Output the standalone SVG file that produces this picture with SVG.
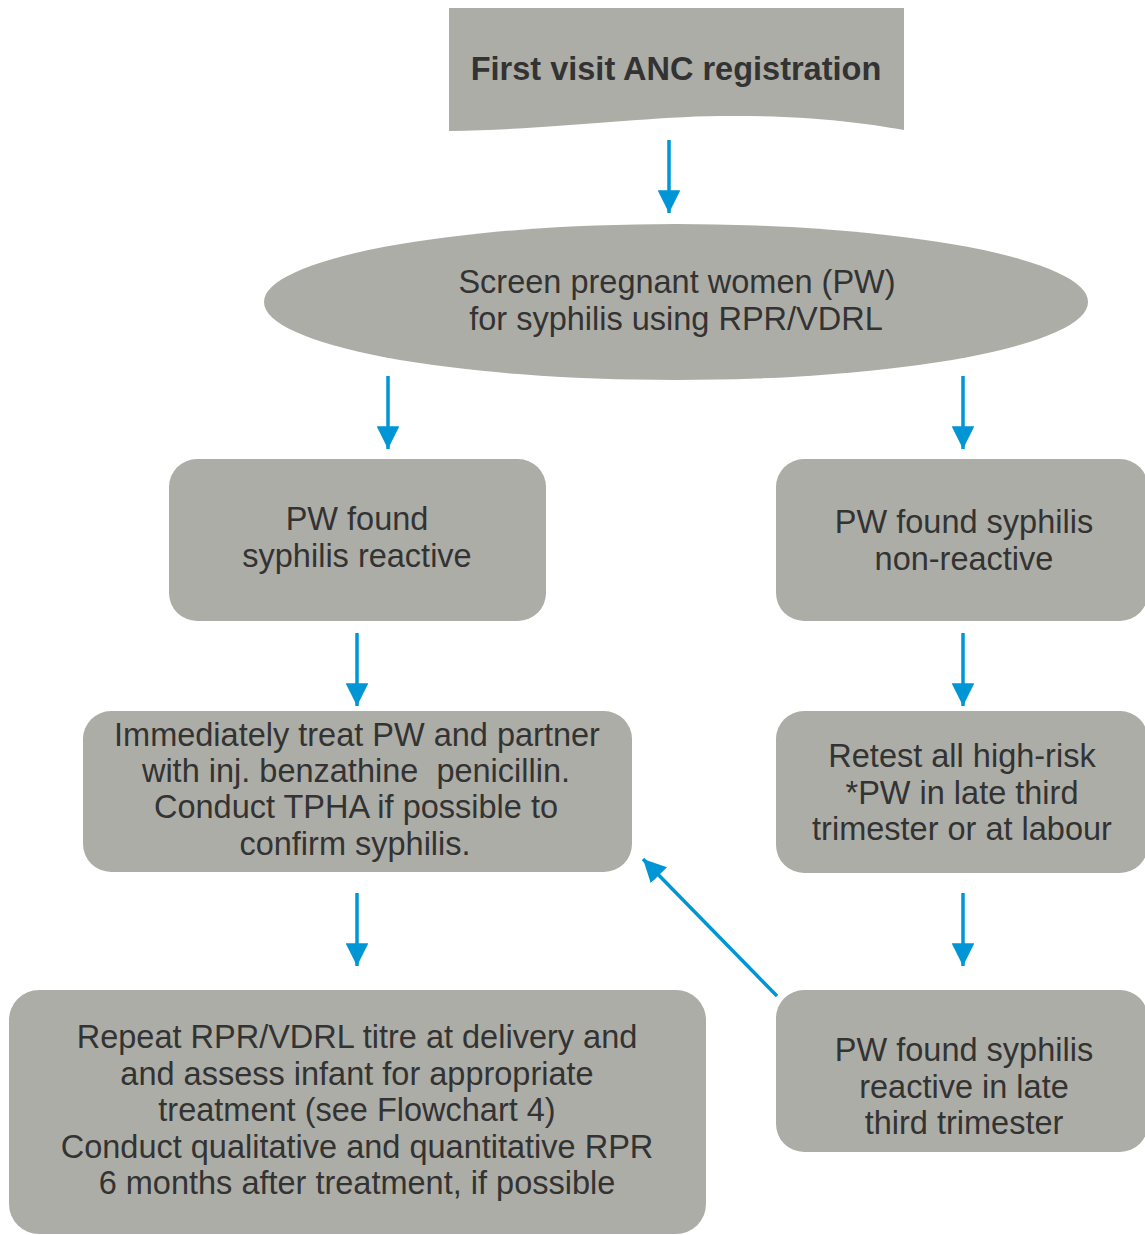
<svg xmlns="http://www.w3.org/2000/svg" width="1145" height="1235" viewBox="0 0 1145 1235">
<defs>
<style>
.n{fill:#adada7;}
.t{font-family:"Liberation Sans",Arial,sans-serif;font-size:32.5px;fill:#333333;text-anchor:middle;}
.b{font-weight:bold;}
.c{stroke:#0096d6;stroke-width:3.5;fill:none;}
</style>
<marker id="ah" viewBox="0 0 10 10" refX="10" refY="5" markerWidth="6.5" markerHeight="6.5" orient="auto" markerUnits="strokeWidth">
<path d="M0,0 L10,5 L0,10 z" fill="#0096d6"/>
</marker>
</defs>
<rect width="1145" height="1235" fill="#ffffff"/>
<g id="connectors">
<line class="c" x1="669" y1="140" x2="669" y2="213" marker-end="url(#ah)"/>
<line class="c" x1="388" y1="376" x2="388" y2="449" marker-end="url(#ah)"/>
<line class="c" x1="963" y1="376" x2="963" y2="449" marker-end="url(#ah)"/>
<line class="c" x1="357" y1="633" x2="357" y2="706" marker-end="url(#ah)"/>
<line class="c" x1="963" y1="633" x2="963" y2="706" marker-end="url(#ah)"/>
<line class="c" x1="357" y1="893" x2="357" y2="966" marker-end="url(#ah)"/>
<line class="c" x1="963" y1="893" x2="963" y2="966" marker-end="url(#ah)"/>
<line class="c" x1="777" y1="996" x2="643" y2="859" marker-end="url(#ah)"/>
</g>
<g id="n1">
<path class="n" d="M449,8 L904,8 L904,130 C860,122 800,115 720,116 C640,117 560,129 449,131 Z"/>
<text class="t b" x="676" y="80">First visit ANC registration</text>
</g>
<g id="n2">
<ellipse class="n" cx="676" cy="302" rx="412" ry="78"/>
<text class="t" x="677" y="293">Screen pregnant women (PW)</text>
<text class="t" x="676" y="330">for syphilis using RPR/VDRL</text>
</g>
<g id="n3">
<rect class="n" x="169" y="459" width="377" height="162" rx="28"/>
<text class="t" x="357" y="530">PW found</text>
<text class="t" x="357" y="567">syphilis reactive</text>
</g>
<g id="n4">
<rect class="n" x="776" y="459" width="372" height="162" rx="28"/>
<text class="t" x="964" y="533">PW found syphilis</text>
<text class="t" x="964" y="570">non-reactive</text>
</g>
<g id="n5">
<rect class="n" x="83" y="711" width="549" height="161" rx="28"/>
<text class="t" x="357" y="746">Immediately treat PW and partner</text>
<text class="t" x="356" y="782" xml:space="preserve">with inj. benzathine  penicillin.</text>
<text class="t" x="356" y="818">Conduct TPHA if possible to</text>
<text class="t" x="355" y="855">confirm syphilis.</text>
</g>
<g id="n6">
<rect class="n" x="776" y="711" width="372" height="162" rx="28"/>
<text class="t" x="962" y="767">Retest all high-risk</text>
<text class="t" x="962" y="804">*PW in late third</text>
<text class="t" x="962" y="840">trimester or at labour</text>
</g>
<g id="n7">
<rect class="n" x="9" y="990" width="697" height="244" rx="30"/>
<text class="t" x="357" y="1048">Repeat RPR/VDRL titre at delivery and</text>
<text class="t" x="357" y="1085">and assess infant for appropriate</text>
<text class="t" x="357" y="1121">treatment (see Flowchart 4)</text>
<text class="t" x="357" y="1158">Conduct qualitative and quantitative RPR</text>
<text class="t" x="357" y="1194">6 months after treatment, if possible</text>
</g>
<g id="n8">
<rect class="n" x="776" y="990" width="372" height="162" rx="28"/>
<text class="t" x="964" y="1061">PW found syphilis</text>
<text class="t" x="964" y="1098">reactive in late</text>
<text class="t" x="964" y="1134">third trimester</text>
</g>
</svg>
